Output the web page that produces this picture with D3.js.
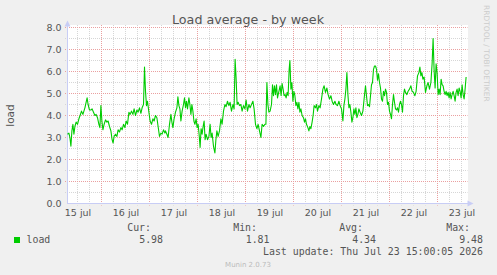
<!DOCTYPE html>
<html>
<head>
<meta charset="utf-8">
<script src="https://cdn.jsdelivr.net/npm/d3@7"></script>
<style>
  body { margin: 0; background: #f0f0f0; }
  text { font-family: "DejaVu Sans", sans-serif; }
  .mono { font-family: "DejaVu Sans Mono", monospace; }
</style>
</head>
<body>
<svg id="drawing_region"></svg>
<script>
const title = 'Load average - by week';
const yLabel = 'load';
const yTicks = [0, 1, 2, 3, 4, 5, 6, 7, 8];
const dayLabels = ['15 jul', '16 jul', '17 jul', '18 jul', '19 jul', '20 jul', '21 jul', '22 jul', '23 jul'];
const legendHeaders = ['Cur:', 'Min:', 'Avg:', 'Max:'];
const legendValues = ['5.98', '1.81', '4.34', '9.48'];
const seriesName = 'load';
const lastUpdate = 'Last update: Thu Jul 23 15:00:05 2026';
const footer = 'Munin 2.0.73';
const watermark = 'RRDTOOL / TOBI OETIKER';

// [hours since 15 jul 00:00, load]
const loadSeries = [
  [7.0,3.15],[7.7,3.2],[8.2,3.0],[8.7,2.6],[9.2,3.3],[9.7,3.6],[10.2,3.15],[10.7,3.5],[11.3,3.7],[12.0,3.6],
  [12.7,3.85],[13.3,4.0],[14.0,4.2],[14.7,4.05],[15.2,4.2],[15.7,4.35],[16.3,4.6],[16.8,4.8],[17.3,4.5],[18.0,4.25],
  [18.7,4.25],[19.3,4.3],[20.0,4.15],[20.7,4.0],[21.3,4.05],[22.0,3.9],[22.7,3.6],[23.2,3.45],[23.7,4.45],[24.2,3.75],
  [24.7,3.35],[25.3,3.6],[26.0,3.8],[26.7,3.7],[27.3,3.75],[28.0,3.5],[28.7,3.3],[29.3,2.9],[29.8,2.75],[30.3,3.05],
  [31.0,3.15],[31.7,3.05],[32.3,3.35],[33.0,3.25],[33.7,3.45],[34.3,3.35],[35.0,3.6],[35.7,3.45],[36.3,3.75],[37.0,3.6],
  [37.7,4.15],[38.3,4.05],[39.0,4.2],[39.7,4.05],[40.3,4.3],[41.0,4.0],[41.7,4.25],[42.3,4.15],[43.0,4.35],[43.7,4.1],
  [44.3,4.35],[45.0,4.5],[45.5,6.2],[46.0,5.1],[46.5,4.45],[47.0,4.65],[47.7,4.15],[48.3,3.75],[49.0,3.6],[49.7,3.85],
  [50.3,3.75],[51.0,4.0],[51.7,3.9],[52.3,3.5],[53.0,3.05],[53.7,3.2],[54.3,3.15],[55.0,3.35],[55.7,3.2],
  [56.0,3.3],[56.7,3.15],[57.3,3.0],[58.0,3.6],[58.7,4.05],[59.2,3.7],[59.7,3.45],[60.3,3.85],[61.0,4.15],[61.7,4.35],
  [62.2,4.85],[62.7,4.45],[63.2,4.3],[63.7,3.75],[64.3,4.2],[65.0,4.5],[65.5,4.8],[66.0,4.35],[66.5,4.65],[67.0,4.3],
  [67.7,4.8],[68.2,4.5],[68.7,4.05],[69.2,4.5],[69.7,4.2],[70.2,3.75],[70.7,3.6],[71.3,3.85],[71.8,3.45],[72.3,3.6],
  [72.8,3.15],[73.3,2.55],[73.8,3.4],[74.3,3.15],[74.8,3.5],[75.3,3.75],[75.8,2.9],[76.3,3.15],[77.0,2.9],[77.7,3.05],
  [78.3,3.6],[78.8,3.0],[79.3,3.2],[80.0,2.6],[80.7,2.3],[81.2,2.9],[81.7,3.3],[82.3,3.05],[83.0,3.3],[83.7,3.85],
  [84.3,3.6],[85.0,4.2],[85.7,4.5],[86.3,4.4],[87.0,4.65],[87.7,4.45],[88.3,4.6],[89.0,4.2],[89.7,4.5],[90.3,4.3],
  [90.8,6.55],[91.3,5.7],[91.8,4.5],[92.3,4.6],[93.0,4.45],[93.7,4.5],[94.3,4.2],[95.0,4.45],[95.7,4.3],[96.3,4.7],
  [97.0,4.2],[97.7,4.5],[98.3,4.35],[99.0,4.5],[99.7,4.65],[100.3,4.3],[101.0,3.6],[101.7,3.4],[102.3,3.6],[103.0,3.3],
  [103.7,3.0],[104.3,3.6],[105.0,3.5],[105.7,3.6],
  [106.2,3.6],[106.7,5.5],[107.2,4.5],[107.7,4.15],[108.3,4.2],[109.0,4.5],[109.5,5.4],[110.0,4.9],[110.5,5.35],[111.0,4.95],
  [111.5,5.4],[112.0,4.8],[112.7,5.1],[113.3,5.35],[113.8,4.9],[114.3,5.45],[114.8,5.2],[115.3,4.9],[115.8,4.95],[116.3,4.8],
  [116.8,5.05],[117.3,4.9],[117.8,6.05],[118.2,6.5],[118.7,5.2],[119.2,5.5],[119.7,4.65],[120.2,5.1],[120.7,4.9],[121.2,4.45],
  [121.7,4.6],[122.2,4.3],[122.7,4.6],[123.2,4.15],[123.7,4.3],[124.3,4.0],[125.0,3.9],[125.5,3.7],[126.0,3.85],[126.5,3.6],
  [127.2,3.45],[127.7,3.3],[128.2,3.5],[128.7,3.4],[129.3,3.7],[129.8,4.0],[130.3,4.45],[131.0,4.35],[131.5,4.5],[132.0,4.2],
  [132.7,4.45],[133.3,4.35],[134.0,4.75],[134.7,5.2],[135.3,5.35],[136.0,5.05],[136.7,5.25],[137.3,4.95],[138.0,4.75],[138.7,4.9],
  [139.3,4.65],[140.0,4.5],[140.7,4.65],[141.3,4.5],[142.0,4.45],[142.7,4.65],[143.3,4.45],[144.0,4.3],[144.7,3.75],[145.2,4.45],
  [145.7,4.75],[146.2,5.2],[146.7,5.95],[147.2,4.95],[147.7,4.35],[148.2,4.5],[148.7,4.15],[149.2,3.7],[149.7,3.9],[150.2,4.3],
  [150.7,4.05],[151.2,4.35],[151.7,3.9],[152.2,4.05],[152.7,4.3],[153.3,4.15],[154.0,4.0],[154.7,4.2],[155.3,4.75],
  [156.0,5.35],[156.5,4.9],[157.0,4.45],[157.5,4.5],[158.0,4.4],[158.5,4.9],[159.0,5.4],[159.5,5.5],[160.0,6.1],[160.5,6.25],
  [161.0,6.25],[161.5,6.1],[162.0,5.6],[162.5,5.9],[163.0,5.5],[163.5,5.25],[164.0,4.75],[164.5,4.65],[165.0,5.1],[165.5,4.9],
  [166.0,5.2],[166.5,5.05],[167.0,4.5],[167.5,4.6],[168.0,4.2],[168.5,4.05],[169.0,3.85],[169.5,4.5],[170.0,4.95],[170.5,4.6],
  [171.0,4.3],[171.5,4.25],[172.0,4.35],[172.5,4.15],[173.0,4.5],[173.5,4.65],[174.0,4.5],[174.5,4.15],[175.0,4.9],[175.5,5.2],
  [176.0,5.05],[176.7,4.95],[177.3,5.1],[178.0,5.2],[178.7,5.35],[179.3,5.1],[180.0,5.05],[180.7,4.9],[181.3,5.1],[182.0,5.8],
  [182.7,5.95],[183.2,6.2],[183.7,5.8],[184.2,5.95],[184.7,5.65],[185.3,5.75],[186.0,5.05],[186.7,5.35],[187.3,5.5],[188.0,5.2],
  [188.7,5.5],[189.3,6.35],[189.8,7.5],[190.3,6.05],[190.8,5.25],[191.3,6.35],[191.8,5.95],[192.3,4.95],[192.8,5.2],[193.3,4.95],
  [193.8,5.65],[194.3,5.4],[194.8,5.35],[195.3,5.1],[195.8,4.95],[196.3,5.1],[196.8,4.9],[197.3,5.05],[197.8,4.8],[198.3,5.05],
  [198.8,4.75],[199.3,4.95],[199.8,5.1],[200.3,4.9],[200.8,4.65],[201.3,5.05],[201.8,5.2],[202.3,4.9],[202.8,5.25],[203.3,5.1],
  [203.8,4.8],[204.3,5.4],[204.8,4.95],[205.3,4.75],[205.8,5.2],[206.3,5.75]
];

const base = Date.UTC(2026, 6, 15);
const toDate = h => new Date(base + h * 3600e3);

const width = 497, height = 275;
const svg = d3.select('#drawing_region')
    .attr('width', width)
    .attr('height', height);

svg.append('rect').attr('width', width).attr('height', height).attr('fill', '#f0f0f0');

const xscale = d3.scaleUtc()
    .domain([toDate(7), toDate(207)])
    .range([67.5, 467.5]);
const yscale = d3.scaleLinear()
    .domain([0, 8])
    .range([203.5, 27.5]);

// canvas
svg.append('rect')
    .attr('x', 67).attr('y', 25)
    .attr('width', 401).attr('height', 179)
    .attr('fill', '#ffffff');

// grid
const grid = svg.append('g').attr('fill', 'none').attr('stroke-width', 1);
const minorY = d3.range(0.5, 8, 1);
grid.selectAll('.hminor').data(minorY).join('line')
    .attr('x1', 65).attr('x2', 467.5)
    .attr('y1', d => yscale(d)).attr('y2', d => yscale(d))
    .attr('stroke', '#d6d6d6').attr('stroke-dasharray', '1,1');

const sixHours = d3.utcHour.every(6).range(toDate(7), toDate(207.01))
    .filter(d => d.getUTCHours() !== 0);
grid.selectAll('.vminor').data(sixHours).join('line')
    .attr('x1', d => xscale(d)).attr('x2', d => xscale(d))
    .attr('y1', 25).attr('y2', 205.5)
    .attr('stroke', '#d6d6d6').attr('stroke-dasharray', '1,1');

grid.selectAll('.hmajor').data(yTicks.filter(d => d > 0)).join('line')
    .attr('x1', 65).attr('x2', 467.5)
    .attr('y1', d => yscale(d)).attr('y2', d => yscale(d))
    .attr('stroke', '#eaa0a0').attr('stroke-dasharray', '1,1');

const midnights = d3.utcDay.range(toDate(7), toDate(207));
grid.selectAll('.vmajor').data(midnights).join('line')
    .attr('x1', d => xscale(d)).attr('x2', d => xscale(d))
    .attr('y1', 25).attr('y2', 205.5)
    .attr('stroke', '#eaa0a0').attr('stroke-dasharray', '1,1');

// axes with arrows
const axisColor = '#c8cdf5';
svg.append('line')
    .attr('x1', 67.5).attr('x2', 67.5).attr('y1', 204).attr('y2', 24)
    .attr('stroke', axisColor);
svg.append('path')
    .attr('d', 'M64.5,26.5 L70.5,26.5 L67.5,20.5 Z')
    .attr('fill', axisColor);
svg.append('line')
    .attr('x1', 67).attr('x2', 470).attr('y1', 203.5).attr('y2', 203.5)
    .attr('stroke', axisColor);
svg.append('path')
    .attr('d', 'M467.5,200.5 L467.5,206.5 L473.5,203.5 Z')
    .attr('fill', axisColor);

// tick labels
const yaxis = d3.axisLeft(yscale)
    .tickValues(yTicks)
    .tickFormat(d3.format('.1f'))
    .tickSize(0)
    .tickPadding(6);
const yaxis_group = svg.append('g')
    .attr('transform', 'translate(67.5,0)')
    .call(yaxis);
yaxis_group.select('.domain').remove();
yaxis_group.selectAll('text')
    .attr('font-family', '"DejaVu Sans", sans-serif')
    .attr('font-size', 9.5)
    .attr('fill', '#555');

const noons = dayLabels.map((d, i) => toDate(12 + i * 24));
const xaxis = d3.axisBottom(xscale)
    .tickValues(noons)
    .tickFormat((d, i) => dayLabels[i])
    .tickSize(0)
    .tickPadding(6);
const xaxis_group = svg.append('g')
    .attr('transform', 'translate(0,203.5)')
    .call(xaxis);
xaxis_group.select('.domain').remove();
xaxis_group.selectAll('text')
    .attr('font-family', '"DejaVu Sans", sans-serif')
    .attr('font-size', 9.5)
    .attr('fill', '#555');

// the series
const line = d3.line()
    .x(d => xscale(toDate(d[0])))
    .y(d => yscale(d[1]));
svg.append('path')
    .attr('d', line(loadSeries))
    .attr('fill', 'none')
    .attr('stroke', '#00cc00')
    .attr('stroke-width', 1.1)
    .attr('stroke-linejoin', 'round');

// titles
svg.append('text')
    .attr('x', 248).attr('y', 24)
    .attr('text-anchor', 'middle')
    .attr('font-size', 12.7)
    .attr('fill', '#555')
    .text(title);

svg.append('text')
    .attr('transform', 'translate(14,115.5) rotate(-90)')
    .attr('text-anchor', 'middle')
    .attr('font-size', 10.5)
    .attr('fill', '#555')
    .text(yLabel);

svg.append('text')
    .attr('transform', 'translate(484,5) rotate(90)')
    .attr('font-size', 7.5)
    .attr('fill', '#cccccc')
    .text(watermark);

// legend
const legendRight = [151, 257, 363, 470];
const valueRight = [163, 269.5, 376, 483];
svg.selectAll('.lhead').data(legendHeaders).join('text')
    .attr('class', 'mono')
    .attr('x', (d, i) => legendRight[i]).attr('y', 231)
    .attr('text-anchor', 'end')
    .attr('font-size', 9.9)
    .attr('fill', '#555')
    .text(d => d);
svg.selectAll('.lval').data(legendValues).join('text')
    .attr('class', 'mono')
    .attr('x', (d, i) => valueRight[i]).attr('y', 243)
    .attr('text-anchor', 'end')
    .attr('font-size', 9.9)
    .attr('fill', '#555')
    .text(d => d);

svg.append('rect')
    .attr('x', 14).attr('y', 237).attr('width', 6).attr('height', 6)
    .attr('fill', '#00cc00');
svg.append('text')
    .attr('class', 'mono')
    .attr('x', 26.5).attr('y', 243)
    .attr('font-size', 9.9)
    .attr('fill', '#555')
    .text(seriesName);

svg.append('text')
    .attr('class', 'mono')
    .attr('x', 483).attr('y', 255)
    .attr('text-anchor', 'end')
    .attr('font-size', 9.9)
    .attr('fill', '#555')
    .text(lastUpdate);

svg.append('text')
    .attr('x', 248).attr('y', 267)
    .attr('text-anchor', 'middle')
    .attr('font-size', 7)
    .attr('fill', '#bbbbbb')
    .text(footer);
</script>
</body>
</html>
